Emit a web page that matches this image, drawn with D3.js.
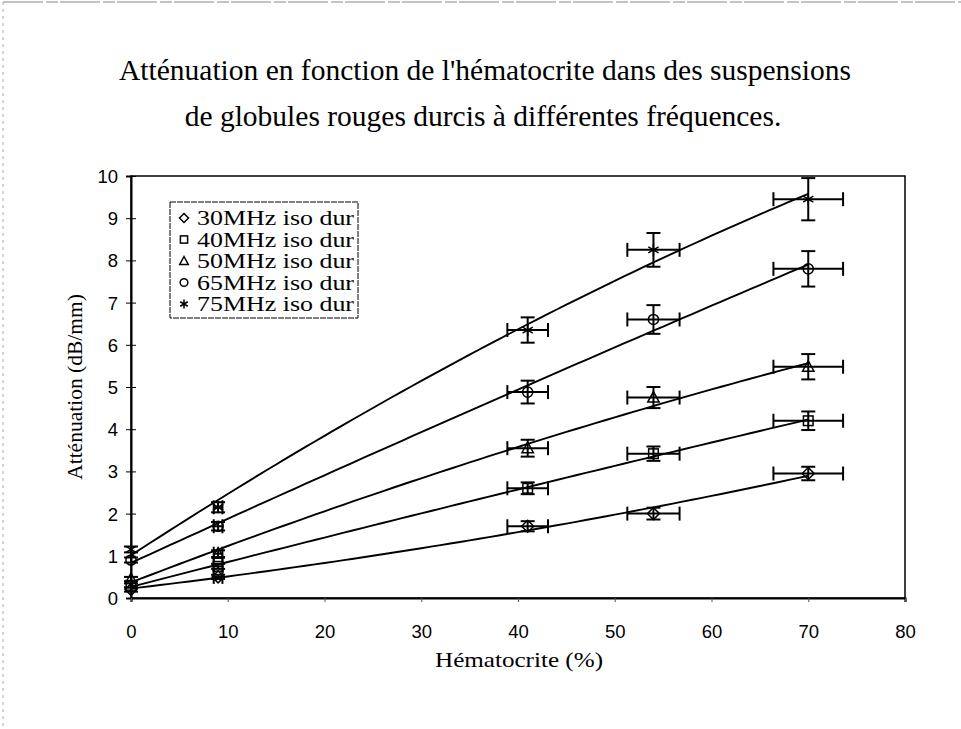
<!DOCTYPE html>
<html>
<head>
<meta charset="utf-8">
<script src="https://cdn.jsdelivr.net/npm/d3@7"></script>
<style>
  body { margin: 0; background: #fff; }
  .title { font-family: "Liberation Serif", "Times New Roman", serif; font-size: 29.5px; fill: #000; }
  .axis-title { font-family: "Liberation Serif", "Times New Roman", serif; font-size: 21.5px; fill: #000; }
  .tick-label { font-family: "Liberation Sans", Arial, sans-serif; font-size: 18.5px; fill: #000; }
  .legend-text { font-family: "Liberation Serif", "Times New Roman", serif; font-size: 20px; fill: #000; }
</style>
</head>
<body>
<script>
// chart values
const hematocrit = [0, 9, 41, 54, 70];
const hematocritErr = [0, 0.45, 2.1, 2.7, 3.6];

const seriesNames = ["30MHz iso dur", "40MHz iso dur", "50MHz iso dur", "65MHz iso dur", "75MHz iso dur"];
const seriesSymbols = ["diamond", "square", "triangle", "circle", "star"];

const att30 = [0.2, 0.5, 1.7, 2.0, 2.95];
const att40 = [0.3, 0.75, 2.6, 3.42, 4.2];
const att50 = [0.45, 1.05, 3.55, 4.75, 5.48];
const att65 = [0.9, 1.7, 4.88, 6.6, 7.8];
const att75 = [1.15, 2.15, 6.35, 8.25, 9.45];

const err30 = [0.05, 0.05, 0.12, 0.14, 0.16];
const err40 = [0.05, 0.06, 0.14, 0.17, 0.22];
const err50 = [0.05, 0.08, 0.2, 0.25, 0.3];
const err65 = [0.06, 0.1, 0.27, 0.34, 0.42];
const err75 = [0.07, 0.12, 0.3, 0.4, 0.5];

const xTicks = [0, 10, 20, 30, 40, 50, 60, 70, 80];
const yTicks = [0, 1, 2, 3, 4, 5, 6, 7, 8, 9, 10];

const SIZE = { width: 961, height: 729, left: 131, right: 905, top: 176, bottom: 598 };

const series = seriesNames.map((name, i) => ({
    name: name,
    symbol: seriesSymbols[i],
    values: [att30, att40, att50, att65, att75][i],
    errors: [err30, err40, err50, err65, err75][i]
}));

const svg = d3.select('body').append('svg')
    .attr('width', SIZE.width)
    .attr('height', SIZE.height);

// faint outer frame of the scanned chart (top and left edges only)
svg.append('line').attr('x1', 3).attr('x2', SIZE.width).attr('y1', 2).attr('y2', 2)
    .attr('stroke', '#888').attr('stroke-width', 1.2).attr('stroke-dasharray', '40,3,12,2');
svg.append('line').attr('x1', 3).attr('x2', 3).attr('y1', 2).attr('y2', SIZE.height)
    .attr('stroke', '#aaa').attr('stroke-width', 1).attr('stroke-dasharray', '3,4');

const x = d3.scaleLinear().domain([0, 80]).range([SIZE.left, SIZE.right]);
const y = d3.scaleLinear().domain([0, 10]).range([SIZE.bottom, SIZE.top]);

// title
svg.append('text').attr('class', 'title').attr('x', 485).attr('y', 80)
    .attr('text-anchor', 'middle')
    .text("Atténuation en fonction de l'hématocrite dans des suspensions");
svg.append('text').attr('class', 'title').attr('x', 483).attr('y', 126)
    .attr('text-anchor', 'middle')
    .text("de globules rouges durcis à différentes fréquences.");

// plot frame
svg.append('rect')
    .attr('x', SIZE.left).attr('y', SIZE.top)
    .attr('width', SIZE.right - SIZE.left).attr('height', SIZE.bottom - SIZE.top)
    .attr('fill', 'none').attr('stroke', '#000').attr('stroke-width', 1.5);

// axes
const yAxis = svg.append('g').attr('transform', `translate(${SIZE.left},0)`)
    .call(d3.axisLeft(y).tickValues(yTicks).tickSize(5).tickFormat(''));
yAxis.selectAll('.tick line').clone().attr('x2', 5);
yAxis.select('.domain').attr('stroke-width', 2);
yAxis.selectAll('.tick')
    .append('text').attr('class', 'tick-label')
    .attr('x', -13).attr('dy', '0.35em').attr('text-anchor', 'end')
    .text(d => d);

const xAxis = svg.append('g').attr('transform', `translate(0,${SIZE.bottom})`)
    .call(d3.axisBottom(x).tickValues(xTicks).tickSize(4).tickFormat(''));
xAxis.select('.domain').attr('stroke-width', 2.2);
xAxis.selectAll('.tick line').attr('stroke', '#555');
xAxis.selectAll('.tick')
    .append('text').attr('class', 'tick-label')
    .attr('y', 40).attr('text-anchor', 'middle')
    .text(d => d);

svg.append('text').attr('class', 'axis-title')
    .attr('transform', `translate(82,${(SIZE.top + SIZE.bottom) / 2}) rotate(-90)`)
    .attr('text-anchor', 'middle')
    .text('Atténuation (dB/mm)');
svg.append('text').attr('class', 'axis-title')
    .attr('x', 435).attr('y', 667)
    .attr('textLength', 168).attr('lengthAdjust', 'spacingAndGlyphs')
    .text('Hématocrite (%)');

// second-order trend line through each series (least squares)
function quadFit(xs, ys) {
    let s = [0, 0, 0, 0, 0], t = [0, 0, 0];
    xs.forEach((xv, i) => {
        for (let k = 0; k < 5; k++) s[k] += Math.pow(xv, k);
        for (let k = 0; k < 3; k++) t[k] += ys[i] * Math.pow(xv, k);
    });
    const A = [[s[0], s[1], s[2], t[0]], [s[1], s[2], s[3], t[1]], [s[2], s[3], s[4], t[2]]];
    for (let c = 0; c < 3; c++) {
        for (let r = c + 1; r < 3; r++) {
            const f = A[r][c] / A[c][c];
            for (let k = c; k < 4; k++) A[r][k] -= f * A[c][k];
        }
    }
    const b = [0, 0, 0];
    for (let r = 2; r >= 0; r--) {
        let v = A[r][3];
        for (let k = r + 1; k < 3; k++) v -= A[r][k] * b[k];
        b[r] = v / A[r][r];
    }
    return xv => b[0] + b[1] * xv + b[2] * xv * xv;
}

const line = d3.line().x(d => x(d[0])).y(d => y(d[1]));
const trendX = d3.range(0, 70.01, 1);

series.forEach(s => {
    const f = quadFit(hematocrit, s.values);
    svg.append('path')
        .attr('d', line(trendX.map(v => [v, f(v)])))
        .attr('fill', 'none').attr('stroke', '#000').attr('stroke-width', 1.9);
});

// symbol drawing
function drawSymbol(g, type, r) {
    if (type === 'diamond') {
        g.append('path').attr('d', `M0,${-r}L${r},0L0,${r}L${-r},0Z`);
    } else if (type === 'square') {
        g.append('rect').attr('x', -r * 0.8).attr('y', -r * 0.8).attr('width', r * 1.6).attr('height', r * 1.6);
    } else if (type === 'triangle') {
        g.append('path').attr('d', `M0,${-r}L${r * 0.95},${r * 0.75}L${-r * 0.95},${r * 0.75}Z`);
    } else if (type === 'circle') {
        g.append('circle').attr('r', r * 0.85);
    } else {
        g.append('path').attr('d', `M0,${-r}V${r}M${-r * 0.85},${-r * 0.5}L${r * 0.85},${r * 0.5}M${-r * 0.85},${r * 0.5}L${r * 0.85},${-r * 0.5}`);
    }
    g.selectAll('*').attr('fill', 'none').attr('stroke', '#000').attr('stroke-width', 1.5);
}

const CAP = 7;
series.forEach(s => {
    const g = svg.append('g');
    s.values.forEach((v, i) => {
        const cx = x(hematocrit[i]), cy = y(v);
        const e = g.append('g').attr('stroke', '#000').attr('stroke-width', 2);
        const y0 = y(v - s.errors[i]), y1 = y(v + s.errors[i]);
        e.append('line').attr('x1', cx).attr('x2', cx).attr('y1', y0).attr('y2', y1);
        e.append('line').attr('x1', cx - CAP).attr('x2', cx + CAP).attr('y1', y0).attr('y2', y0);
        e.append('line').attr('x1', cx - CAP).attr('x2', cx + CAP).attr('y1', y1).attr('y2', y1);
        if (hematocritErr[i] > 0) {
            const x0 = x(hematocrit[i] - hematocritErr[i]), x1 = x(hematocrit[i] + hematocritErr[i]);
            e.append('line').attr('x1', x0).attr('x2', x1).attr('y1', cy).attr('y2', cy);
            e.append('line').attr('x1', x0).attr('x2', x0).attr('y1', cy - CAP).attr('y2', cy + CAP);
            e.append('line').attr('x1', x1).attr('x2', x1).attr('y1', cy - CAP).attr('y2', cy + CAP);
        }
        const m = g.append('g').attr('transform', `translate(${cx},${cy})`);
        drawSymbol(m, s.symbol, 6);
    });
});

// legend
const legend = svg.append('g').attr('transform', 'translate(170,202)');
legend.append('rect').attr('width', 188).attr('height', 116)
    .attr('fill', '#fff').attr('stroke', '#000').attr('stroke-width', 1)
    .attr('stroke-dasharray', '6,1');
series.forEach((s, i) => {
    const row = legend.append('g').attr('transform', `translate(14,${16 + i * 21.5})`);
    drawSymbol(row.append('g'), s.symbol, 4.5);
    row.append('text').attr('class', 'legend-text').attr('x', 13).attr('dy', '0.35em')
        .attr('textLength', 157).attr('lengthAdjust', 'spacingAndGlyphs')
        .text(s.name);
});
</script>
</body>
</html>
